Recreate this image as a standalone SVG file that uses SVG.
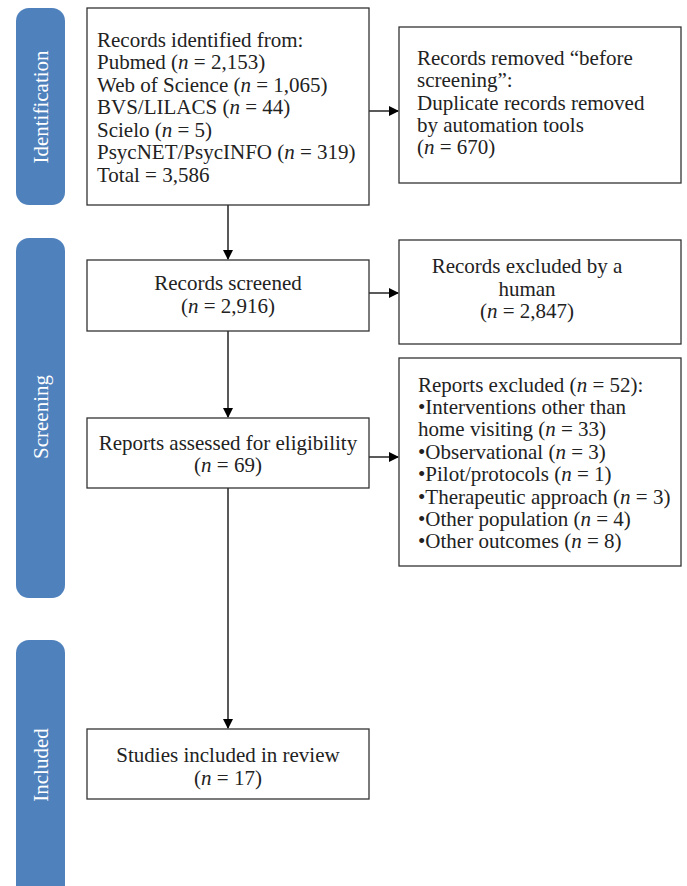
<svg xmlns="http://www.w3.org/2000/svg" width="687" height="886" viewBox="0 0 687 886">
<style>
.band{fill:#4f81bd}
.bl{font-family:"Liberation Serif","DejaVu Serif",serif;font-size:21px;fill:#fff;text-anchor:middle}
.box{fill:#fff;stroke:#333;stroke-width:1.3}
.t{font-family:"Liberation Serif","DejaVu Serif",serif;font-size:21px;fill:#222}
.c{text-anchor:middle}
.i{font-style:italic}
.con{stroke:#000;stroke-width:1.3;fill:none}
</style>
<defs>
<marker id="ah" markerWidth="10" markerHeight="10" refX="9" refY="5" orient="auto" markerUnits="userSpaceOnUse">
<path d="M0,0 L10,5 L0,10 Z" fill="#000"/>
</marker>
</defs>
<g id="band-identification"><rect class="band" x="16" y="8" width="49" height="197" rx="13"/><text class="bl" transform="translate(48,107) rotate(-90)">Identification</text></g>
<g id="band-screening"><rect class="band" x="16" y="238" width="49" height="360" rx="13"/><text class="bl" transform="translate(48,417) rotate(-90)">Screening</text></g>
<g id="band-included"><rect class="band" x="16" y="640" width="49" height="260" rx="13"/><text class="bl" transform="translate(48,765) rotate(-90)">Included</text></g>

<g id="connectors">
<line class="con" x1="369" y1="111" x2="398" y2="111" marker-end="url(#ah)"/>
<line class="con" x1="228" y1="205" x2="228" y2="259" marker-end="url(#ah)"/>
<line class="con" x1="369" y1="293" x2="398" y2="293" marker-end="url(#ah)"/>
<line class="con" x1="228" y1="331" x2="228" y2="417" marker-end="url(#ah)"/>
<line class="con" x1="369" y1="457" x2="398" y2="457" marker-end="url(#ah)"/>
<line class="con" x1="228" y1="488" x2="228" y2="728" marker-end="url(#ah)"/>
</g>

<g id="records-identified"><rect class="box" x="87" y="8" width="282" height="197"/>
<text class="t" x="97" y="47">Records identified from:</text>
<text class="t" x="97" y="69">Pubmed (<tspan class="i">n</tspan> = 2,153)</text>
<text class="t" x="97" y="92">Web of Science (<tspan class="i">n</tspan> = 1,065)</text>
<text class="t" x="97" y="114">BVS/LILACS (<tspan class="i">n</tspan> = 44)</text>
<text class="t" x="97" y="137">Scielo (<tspan class="i">n</tspan> = 5)</text>
<text class="t" x="97" y="159">PsycNET/PsycINFO (<tspan class="i">n</tspan> = 319)</text>
<text class="t" x="97" y="182">Total = 3,586</text>
</g>

<g id="records-removed"><rect class="box" x="399" y="27" width="282" height="156"/>
<text class="t" x="417" y="65">Records removed “before</text>
<text class="t" x="417" y="87">screening”:</text>
<text class="t" x="417" y="110">Duplicate records removed</text>
<text class="t" x="417" y="132">by automation tools</text>
<text class="t" x="417" y="154">(<tspan class="i">n</tspan> = 670)</text>
</g>

<g id="records-screened"><rect class="box" x="87" y="260" width="282" height="71"/>
<text class="t c" x="228" y="290">Records screened</text>
<text class="t c" x="228" y="313">(<tspan class="i">n</tspan> = 2,916)</text>
</g>

<g id="records-excluded"><rect class="box" x="399" y="240" width="282" height="104"/>
<text class="t c" x="527" y="273">Records excluded by a</text>
<text class="t c" x="527" y="296">human</text>
<text class="t c" x="527" y="318">(<tspan class="i">n</tspan> = 2,847)</text>
</g>

<g id="reports-assessed"><rect class="box" x="87" y="418" width="282" height="70"/>
<text class="t c" x="228" y="450">Reports assessed for eligibility</text>
<text class="t c" x="228" y="472">(<tspan class="i">n</tspan> = 69)</text>
</g>

<g id="reports-excluded"><rect class="box" x="399" y="358" width="282" height="208"/>
<text class="t" x="418" y="392">Reports excluded (<tspan class="i">n</tspan> = 52):</text>
<text class="t" x="418" y="414">•Interventions other than</text>
<text class="t" x="418" y="436">home visiting (<tspan class="i">n</tspan> = 33)</text>
<text class="t" x="418" y="459">•Observational (<tspan class="i">n</tspan> = 3)</text>
<text class="t" x="418" y="481">•Pilot/protocols (<tspan class="i">n</tspan> = 1)</text>
<text class="t" x="418" y="504">•Therapeutic approach (<tspan class="i">n</tspan> = 3)</text>
<text class="t" x="418" y="526">•Other population (<tspan class="i">n</tspan> = 4)</text>
<text class="t" x="418" y="548">•Other outcomes (<tspan class="i">n</tspan> = 8)</text>
</g>

<g id="studies-included"><rect class="box" x="87" y="729" width="282" height="70"/>
<text class="t c" x="228" y="762">Studies included in review</text>
<text class="t c" x="228" y="785">(<tspan class="i">n</tspan> = 17)</text>
</g>
</svg>
